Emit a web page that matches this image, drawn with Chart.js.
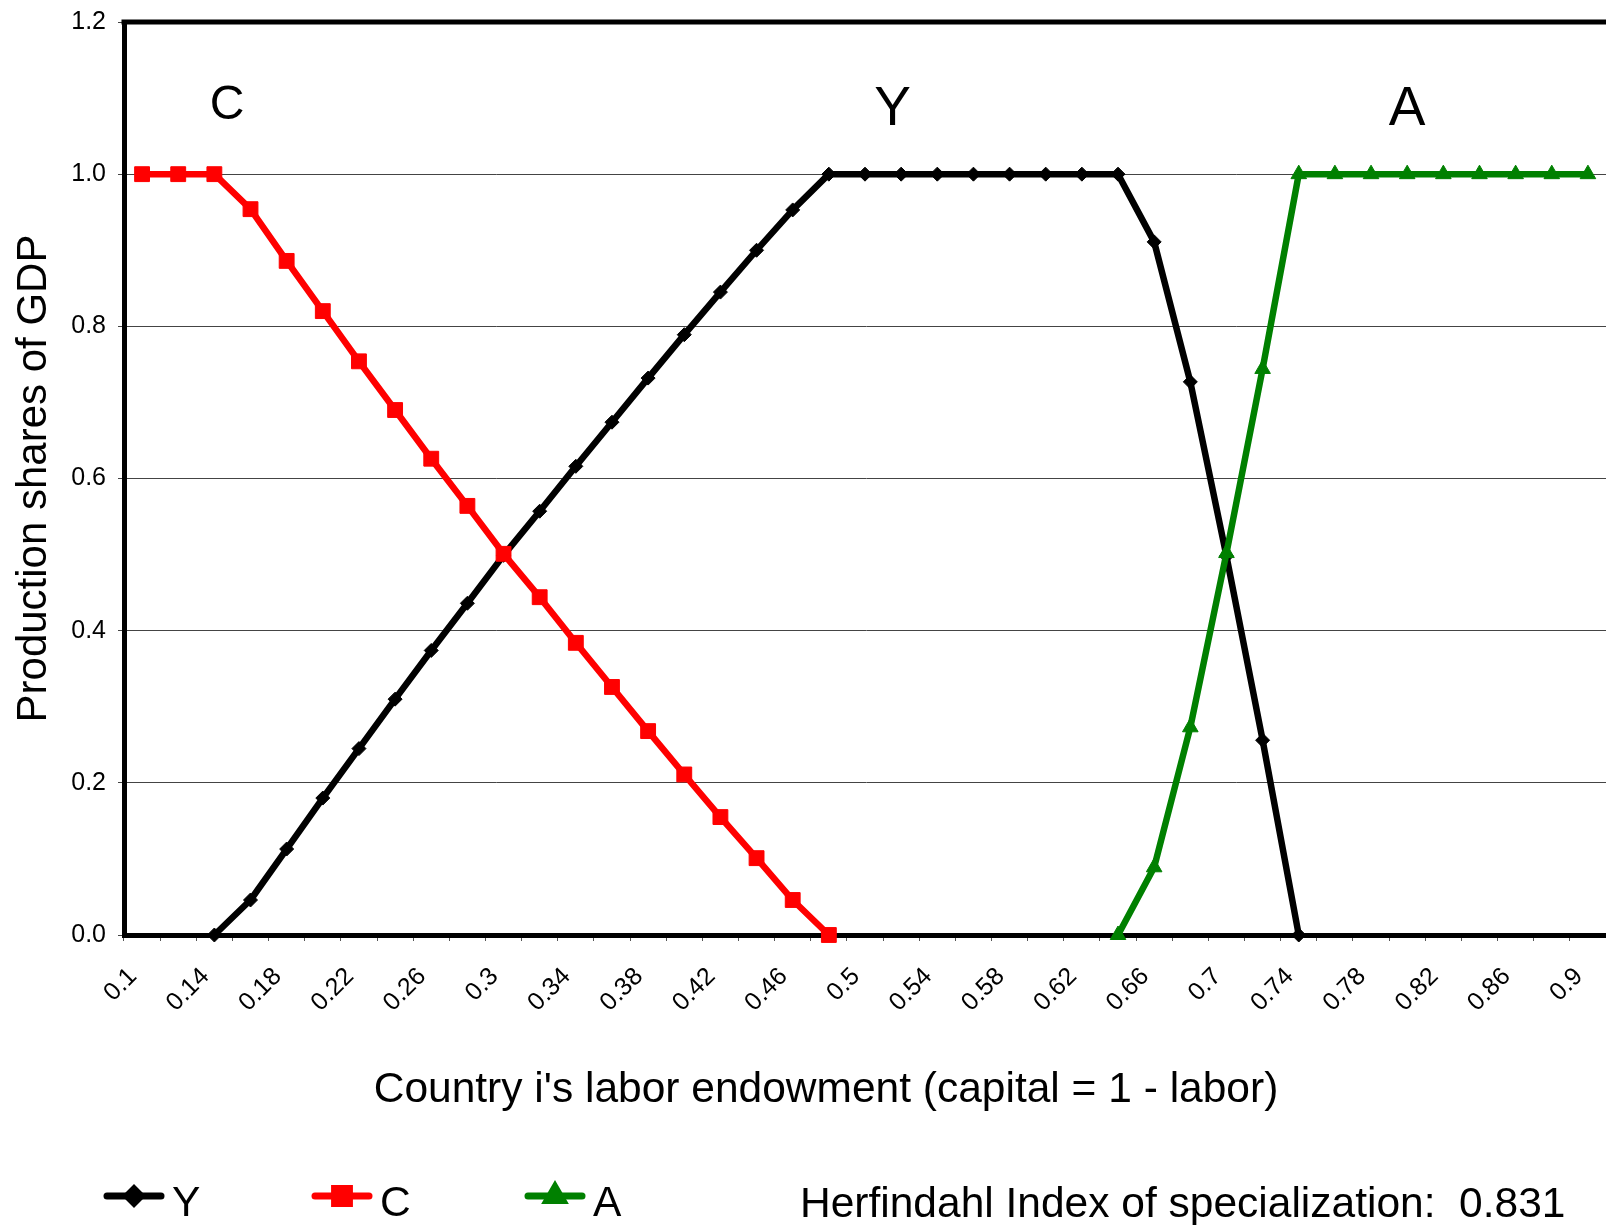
<!DOCTYPE html>
<html>
<head>
<meta charset="utf-8">
<script src="https://cdn.jsdelivr.net/npm/chart.js@4.4.0/dist/chart.umd.min.js"></script>
<style>
  html, body { margin: 0; padding: 0; background: #fff; overflow: hidden; }
  #wrap { width: 1606px; height: 1225px; }
</style>
</head>
<body>
<div id="wrap"><canvas id="chart" width="1606" height="1225"></canvas></div>
<script>
const FONT = "'Liberation Sans', Arial, sans-serif";

// labor endowment categories
const categories = ['0.1','0.12','0.14','0.16','0.18','0.2','0.22','0.24','0.26','0.28',
  '0.3','0.32','0.34','0.36','0.38','0.4','0.42','0.44','0.46','0.48',
  '0.5','0.52','0.54','0.56','0.58','0.6','0.62','0.64','0.66','0.68',
  '0.7','0.72','0.74','0.76','0.78','0.8','0.82','0.84','0.86','0.88','0.9'];

const yShare = [null, null, 0, 0.046, 0.113, 0.180, 0.245, 0.310, 0.374, 0.436,
  0.499, 0.557, 0.616, 0.674, 0.732, 0.789, 0.845, 0.900, 0.953, 1,
  1, 1, 1, 1, 1, 1, 1, 1, 0.911, 0.727,
  0.498, 0.256, 0, null, null, null, null, null, null, null, null];

const cShare = [1, 1, 1, 0.954, 0.886, 0.820, 0.754, 0.690, 0.626, 0.564,
  0.501, 0.444, 0.384, 0.326, 0.268, 0.211, 0.155, 0.101, 0.046, 0,
  null, null, null, null, null, null, null, null, null, null,
  null, null, null, null, null, null, null, null, null, null, null];

const aShare = [null, null, null, null, null, null, null, null, null, null,
  null, null, null, null, null, null, null, null, null, null,
  null, null, null, null, null, null, null, 0, 0.089, 0.273,
  0.502, 0.744, 1, 1, 1, 1, 1, 1, 1, 1, 1];

const yTicks = [0, 0.2, 0.4, 0.6, 0.8, 1.0, 1.2];

// region labels inside the plot: text, category position, share
const regionText = ['C', 'Y', 'A'];
const regionX = [2.35, 20.76, 35.0];
const regionY = [1.090, 1.085, 1.085];
const regionSize = [48, 55, 55];

const herfindahl = 'Herfindahl Index of specialization:  0.831';
const xTitle = "Country i's labor endowment (capital = 1 - labor)";

const extras = {
  id: 'extras',
  afterDraw(chart) {
    const ctx = chart.ctx;
    const area = chart.chartArea;
    const xs = chart.scales.x, ys = chart.scales.y;
    ctx.save();

    // top frame of the plot
    ctx.strokeStyle = '#000';
    ctx.lineWidth = 5;
    ctx.beginPath();
    ctx.moveTo(area.left - 2.5, area.top);
    ctx.lineTo(area.right, area.top);
    ctx.stroke();

    ctx.fillStyle = '#000';
    ctx.textAlign = 'center';
    ctx.textBaseline = 'middle';
    regionText.forEach((t, i) => {
      ctx.font = regionSize[i] + 'px ' + FONT;
      ctx.fillText(t, xs.getPixelForValue(regionX[i]), ys.getPixelForValue(regionY[i]));
    });

    // x axis title
    ctx.font = '42.5px ' + FONT;
    ctx.textBaseline = 'alphabetic';
    ctx.fillText(xTitle, 826, 1102);

    // legend
    const legendX = [107, 315, 528];
    const ly = 1196;
    chart.data.datasets.forEach((ds, i) => {
      const x0 = legendX[i];
      ctx.strokeStyle = ds.borderColor;
      ctx.lineWidth = 7;
      ctx.lineCap = 'round';
      ctx.beginPath();
      ctx.moveTo(x0, ly);
      ctx.lineTo(x0 + 54, ly);
      ctx.stroke();
      ctx.fillStyle = ds.borderColor;
      Chart.helpers.drawPoint(ctx, {
        pointStyle: ds.pointStyle, radius: ds.pointRadius, borderWidth: 1, rotation: 0
      }, x0 + 27, ly);
      ctx.fillStyle = '#000';
      ctx.textAlign = 'left';
      ctx.font = '42.5px ' + FONT;
      ctx.fillText(ds.label, x0 + 65, 1216);
    });
    ctx.textAlign = 'left';
    ctx.fillText(herfindahl, 800, 1217);
    ctx.restore();
  }
};

function series(label, data, color, style, radius, order) {
  return {
    label, data, order,
    borderColor: color, backgroundColor: color,
    borderWidth: 6.5, borderJoinStyle: 'round', borderCapStyle: 'round',
    pointStyle: style, pointRadius: radius, pointBorderWidth: 1,
    pointBackgroundColor: color, pointBorderColor: color,
    spanGaps: false, tension: 0, clip: false
  };
}

new Chart(document.getElementById('chart'), {
  type: 'line',
  data: {
    labels: categories,
    datasets: [
      series('Y', yShare, '#000000', 'rectRot', 7, 2),
      series('C', cShare, '#FF0000', 'rect', 10.5, 1),
      series('A', aShare, '#008000', 'triangle', 9, 0)
    ]
  },
  options: {
    responsive: false,
    animation: false,
    layout: { autoPadding: false, padding: { top: 22, right: 0, left: 0, bottom: 0 } },
    plugins: { legend: { display: false }, tooltip: { enabled: false } },
    scales: {
      x: {
        type: 'category',
        offset: true,
        grid: { display: true, drawOnChartArea: false, drawTicks: true, tickLength: 6, color: '#555', offset: true },
        border: { display: true, color: '#000', width: 5 },
        ticks: {
          autoSkip: false, maxRotation: 45, minRotation: 45, padding: 21, labelOffset: -9,
          color: '#000', font: { family: FONT, size: 25 },
          callback: (v, i) => (i % 2 === 0 ? categories[i] : '')
        },
        afterFit(scale) { scale.height = 290; scale.paddingLeft = 0; scale.paddingRight = 0; }
      },
      y: {
        min: 0, max: 1.2,
        afterBuildTicks(scale) { scale.ticks = yTicks.map(v => ({ value: v })); },
        grid: { color: '#444', lineWidth: 1, tickLength: 6 },
        border: { display: true, color: '#000', width: 5 },
        ticks: {
          padding: 12, color: '#000', font: { family: FONT, size: 25 },
          callback: v => Number(v).toFixed(1)
        },
        title: {
          display: true, text: 'Production shares of GDP', color: '#000',
          font: { family: FONT, size: 42, lineHeight: 1 }, padding: { top: 13, bottom: 0 }
        },
        afterFit(scale) { scale.width = 124; scale.paddingTop = 0; scale.paddingBottom = 0; }
      }
    }
  },
  plugins: [extras]
});
</script>
</body>
</html>
